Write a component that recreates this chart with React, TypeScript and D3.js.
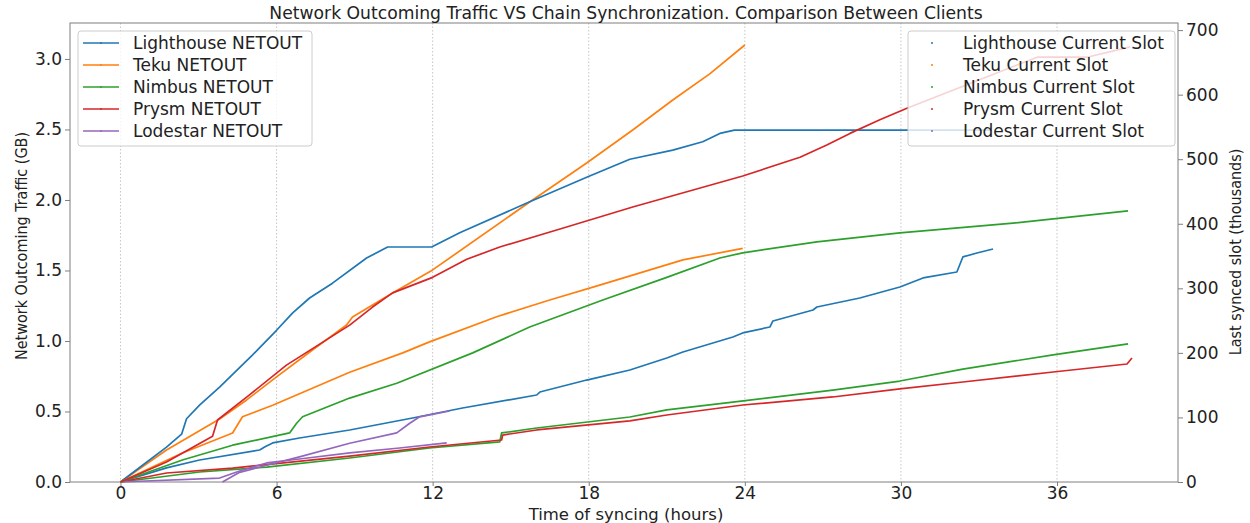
import React, { useEffect, useRef } from "react";
import * as d3 from "d3";

const clients = ["Lighthouse", "Teku", "Nimbus", "Prysm", "Lodestar"];
const colors = ["#1f77b4", "#ff7f0e", "#2ca02c", "#d62728", "#9467bd"];
const xTicks = [0, 6, 12, 18, 24, 30, 36];
const leftTicks = [0, 0.5, 1, 1.5, 2, 2.5, 3];
const rightTicks = [0, 100, 200, 300, 400, 500, 600, 700];

// [hours, GB]
const lighthouseNetout = [
  [0, 0], [1.77, 0.1], [3.04, 0.156], [5.35, 0.227], [5.54, 0.248], [5.85, 0.277],
  [6.88, 0.312], [8.81, 0.369], [11.23, 0.454], [13.15, 0.525], [16.0, 0.617],
  [16.12, 0.638], [17.92, 0.723], [19.58, 0.794], [21.0, 0.879], [21.62, 0.922],
  [23.54, 1.028], [23.92, 1.057], [24.96, 1.099], [25.08, 1.142], [26.62, 1.22],
  [26.77, 1.241], [28.42, 1.305], [29.96, 1.383], [30.85, 1.447], [32.15, 1.489],
  [32.38, 1.596], [32.92, 1.624], [33.54, 1.652],
];
const tekuNetout = [
  [0, 0], [1.77, 0.227], [3.81, 0.447], [4.85, 0.582], [6.0, 0.745], [7.38, 0.936],
  [8.69, 1.113], [8.92, 1.17], [10.46, 1.34], [12.0, 1.504], [15.73, 1.986],
  [17.92, 2.262], [19.69, 2.496], [21.23, 2.709], [22.65, 2.894], [24.0, 3.099],
];
const nimbusNetout = [
  [0, 0], [3.04, 0.071], [5.62, 0.106], [8.81, 0.17], [11.88, 0.241], [14.58, 0.284],
  [14.65, 0.348], [16.0, 0.383], [19.58, 0.461], [21.0, 0.511], [23.54, 0.567],
  [27.38, 0.652], [29.96, 0.716], [32.38, 0.801], [35.85, 0.901], [38.73, 0.979],
];
const prysmNetout = [
  [0, 0], [1.77, 0.064], [4.31, 0.099], [8.81, 0.184], [11.88, 0.248], [14.65, 0.298],
  [14.69, 0.333], [16.0, 0.369], [19.58, 0.433], [21.0, 0.475], [23.92, 0.546],
  [27.38, 0.603], [29.96, 0.66], [32.38, 0.709], [35.85, 0.78], [38.69, 0.837],
  [38.88, 0.879],
];
const lodestarNetout = [
  [0, 0], [3.81, 0.028], [4.58, 0.078], [5.62, 0.135], [6.88, 0.163], [8.81, 0.206],
  [10.73, 0.241], [12.54, 0.277],
];

// [hours, thousand slots]
const lighthouseSlot = [
  [0, 0], [0.85, 26], [1.77, 54], [2.35, 74], [2.54, 98], [3.04, 119], [3.81, 147],
  [5.08, 197], [6.0, 235], [6.62, 262], [7.27, 285], [8.15, 308], [9.46, 347],
  [10.27, 364], [11.96, 364], [13.04, 386], [15.73, 434], [17.92, 472], [19.58, 500],
  [21.23, 514], [22.38, 527], [23.04, 540], [23.6, 545], [33.5, 545],
];
const tekuSlot = [
  [0, 0], [2.38, 45], [4.31, 76], [4.69, 101], [5.85, 119], [8.81, 170], [10.85, 200],
  [11.88, 217], [14.46, 256], [16.5, 282], [18.42, 305], [21.62, 344], [23.92, 362],
];
const nimbusSlot = [
  [0, 0], [2.38, 34], [4.31, 57], [6.5, 76], [6.77, 91], [7.0, 101], [8.81, 130],
  [10.62, 153], [13.54, 200], [15.73, 240], [18.54, 282], [21.0, 317], [23.04, 347],
  [23.92, 355], [26.77, 372], [29.96, 386], [34.31, 401], [38.73, 420],
];
const prysmSlot = [
  [0, 0], [1.77, 31], [3.54, 71], [3.73, 96], [4.96, 135], [6.38, 181], [8.81, 243],
  [9.69, 271], [10.46, 293], [12.0, 317], [13.31, 345], [14.58, 364], [17.15, 395],
  [19.69, 426], [23.92, 474], [26.12, 503], [27.15, 522], [28.04, 540], [29.19, 561],
  [30.23, 579], [35.23, 658], [37.15, 658], [38.81, 674],
];
const lodestarSlot = [
  [3.92, 0], [4.58, 15], [5.62, 26], [6.88, 39], [8.81, 60], [10.62, 76], [11.12, 91],
  [11.5, 101], [12.65, 110],
];

const netoutSeries = [lighthouseNetout, tekuNetout, nimbusNetout, prysmNetout, lodestarNetout];
const slotSeries = [lighthouseSlot, tekuSlot, nimbusSlot, prysmSlot, lodestarSlot];

const W = 1250;
const H = 523;
const font = "DejaVu Sans, sans-serif";
const narrowFont = "DejaVu Sans Condensed, DejaVu Sans, sans-serif";

const App = () => {
  const ref = useRef<SVGSVGElement | null>(null);

  useEffect(() => {
    document.body.style.margin = "0";
    const svg = d3.select(ref.current);
    svg.selectAll("*").remove();

    const left = 70, right = 1178, top = 23, bottom = 482;
    const x = d3.scaleLinear().domain([-1.94, 40.65]).range([left, right]);
    const yL = d3.scaleLinear().domain([0, 3.255]).range([bottom, top]);
    const yR = d3.scaleLinear().domain([0, 711]).range([bottom, top]);

    // grid
    svg.append("g")
      .selectAll("line")
      .data(xTicks)
      .enter()
      .append("line")
      .attr("x1", (d) => x(d))
      .attr("x2", (d) => x(d))
      .attr("y1", top)
      .attr("y2", bottom)
      .attr("stroke", "#b8b8b8")
      .attr("stroke-width", 0.8)
      .attr("stroke-dasharray", "1.5,2");

    // axes
    const axisColor = "#7f7f7f";
    const styleAxis = (g: any) => {
      g.select(".domain").remove();
      g.selectAll("line").attr("stroke", axisColor);
      g.selectAll("text").attr("font-family", font).attr("font-size", 17).attr("fill", "#222");
    };
    svg.append("g")
      .attr("transform", `translate(0,${bottom})`)
      .call(d3.axisBottom(x).tickValues(xTicks).tickSize(4).tickPadding(1).tickFormat(d3.format("d")))
      .call(styleAxis);
    svg.append("g")
      .attr("transform", `translate(${left},0)`)
      .call(d3.axisLeft(yL).tickValues(leftTicks).tickSize(5).tickPadding(3).tickFormat(d3.format(".1f")))
      .call(styleAxis);
    svg.append("g")
      .attr("transform", `translate(${right},0)`)
      .call(d3.axisRight(yR).tickValues(rightTicks).tickSize(5).tickPadding(3).tickFormat(d3.format("d")))
      .call(styleAxis);

    svg.append("rect")
      .attr("x", left).attr("y", top)
      .attr("width", right - left).attr("height", bottom - top)
      .attr("fill", "none").attr("stroke", axisColor).attr("stroke-width", 1);

    // NETOUT lines (left axis)
    const lineL = d3.line<number[]>().x((d) => x(d[0])).y((d) => yL(d[1]));
    const lineR = d3.line<number[]>().x((d) => x(d[0])).y((d) => yR(d[1]));
    netoutSeries.forEach((s, i) => {
      svg.append("path").attr("d", lineL(s as any)).attr("fill", "none")
        .attr("stroke", colors[i]).attr("stroke-width", 1.7).attr("stroke-linejoin", "round");
    });

    const drawLegend = (x0: number, w: number, labels: string[], isLine: boolean) => {
      const g = svg.append("g");
      g.append("rect").attr("x", x0).attr("y", 31).attr("width", w).attr("height", 115)
        .attr("rx", 3).attr("fill", "white").attr("fill-opacity", 0.8)
        .attr("stroke", "#cccccc").attr("stroke-width", 1);
      labels.forEach((lab, i) => {
        const yy = 43 + i * 22;
        if (isLine) {
          g.append("line").attr("x1", x0 + 5).attr("x2", x0 + 41).attr("y1", yy).attr("y2", yy)
            .attr("stroke", colors[i]).attr("stroke-width", 1.7);
          g.append("circle").attr("cx", x0 + 23).attr("cy", yy).attr("r", 0.9).attr("fill", colors[i]);
        } else {
          g.append("circle").attr("cx", x0 + 24).attr("cy", yy).attr("r", 1).attr("fill", colors[i]);
        }
        g.append("text").attr("x", x0 + 55).attr("y", yy).attr("dy", "0.36em")
          .attr("font-family", font).attr("font-size", 17).attr("fill", "#222").text(lab);
      });
    };
    drawLegend(78, 234, clients.map((c) => `${c} NETOUT`), true);

    // slot lines (right axis)
    slotSeries.forEach((s, i) => {
      svg.append("path").attr("d", lineR(s as any)).attr("fill", "none")
        .attr("stroke", colors[i]).attr("stroke-width", 1.7).attr("stroke-linejoin", "round");
    });
    drawLegend(908, 267, clients.map((c) => `${c} Current Slot`), false);

    // titles
    svg.append("text").attr("x", 626).attr("y", 19).attr("text-anchor", "middle")
      .attr("font-family", font).attr("font-size", 17.2).attr("fill", "#222")
      .text("Network Outcoming Traffic VS Chain Synchronization. Comparison Between Clients");
    svg.append("text").attr("x", 626).attr("y", 520).attr("text-anchor", "middle")
      .attr("font-family", font).attr("font-size", 16.5).attr("fill", "#222")
      .text("Time of syncing (hours)");
    svg.append("text").attr("transform", "translate(27,246) rotate(-90)").attr("text-anchor", "middle")
      .attr("font-family", narrowFont).attr("font-size", 16).attr("fill", "#222")
      .text("Network Outcoming Traffic (GB)");
    svg.append("text").attr("transform", "translate(1241,252) rotate(-90)").attr("text-anchor", "middle")
      .attr("font-family", narrowFont).attr("font-size", 16).attr("fill", "#222")
      .text("Last synced slot (thousands)");
  }, []);

  return <svg ref={ref} width={W} height={H} style={{ display: "block", background: "white" }} />;
};

export default App;
